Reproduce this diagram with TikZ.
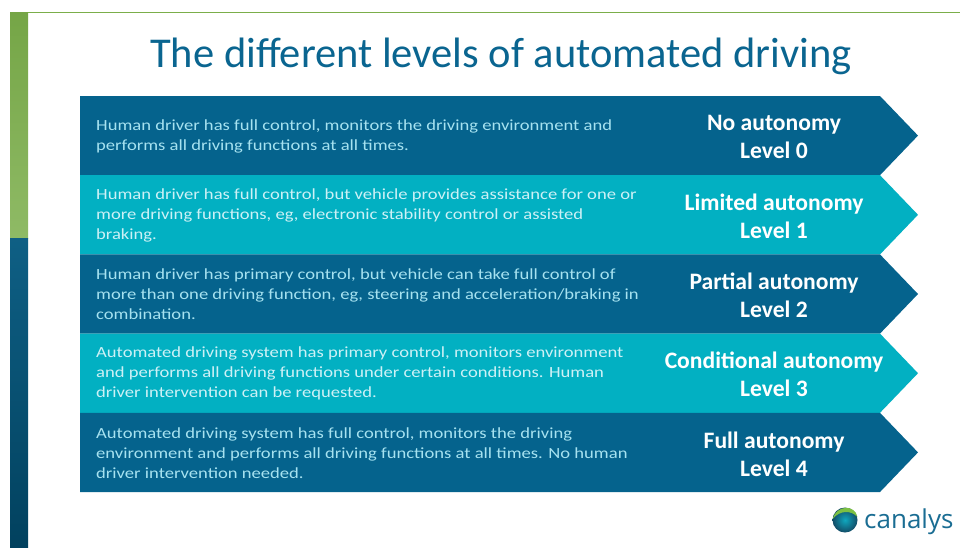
\documentclass[tikz,border=0pt]{standalone}
\usepackage{fontspec}
\setmainfont{Carlito}
\newfontfamily\descfont[FakeStretch=1.2]{Carlito}
\newfontfamily\logofont{Open Sans}
\usetikzlibrary{positioning}
\definecolor{bandDark}{HTML}{05638D}
\definecolor{bandLight}{HTML}{02B0C2}
\definecolor{txtDark}{HTML}{A6E2F0}
\definecolor{txtLight}{HTML}{CDF1F6}
\definecolor{titleBlue}{HTML}{0A6590}
\definecolor{barGreen}{HTML}{7BAE4A}
\definecolor{barBlue}{HTML}{02577E}
\definecolor{logoBlue}{HTML}{1A6D93}
\definecolor{logoGreen}{HTML}{7CC043}

\begin{document}
\begin{tikzpicture}[x=1pt,y=-1pt]
  \tikzstyle{desc}=[anchor=west,align=left,inner sep=0pt,
                    font=\descfont\fontsize{15.5}{20}\selectfont]
  \tikzstyle{level}=[align=center,inner sep=0pt,text=white,
                     font=\bfseries\fontsize{23.6}{28}\selectfont]

  \useasboundingbox (0,0) rectangle (960,547);
  \fill[white] (0,0) rectangle (960,547);

  % side bar and top rule
  \shade[top color=barGreen!95!black,bottom color=barGreen!85!white] (10,12) rectangle (28,238);
  \shade[top color=barBlue!95!white,bottom color=barBlue!75!black] (10,238) rectangle (28,547);
  \draw[barGreen,line width=1pt] (28,12) -- (960,12);

  \node[font=\fontsize{42.5}{48}\selectfont,text=titleBlue,anchor=base] (title) at (501,67.7)
       {The different levels of automated driving};

  % the five bands
  \fill[bandDark]  (80,96)    -- (880,96)    -- (918,135.6) -- (880,175.2) -- (80,175.2) -- cycle;
  \fill[bandLight] (80,175.2) -- (880,175.2) -- (918,214.8) -- (880,254.4) -- (80,254.4) -- cycle;
  \fill[bandDark]  (80,254.4) -- (880,254.4) -- (918,294)   -- (880,333.6) -- (80,333.6) -- cycle;
  \fill[bandLight] (80,333.6) -- (880,333.6) -- (918,373.2) -- (880,412.8) -- (80,412.8) -- cycle;
  \fill[bandDark]  (80,412.8) -- (880,412.8) -- (918,452.4) -- (880,492)   -- (80,492)   -- cycle;

  \node[desc,text=txtDark] (d0) at (96,136)
       {Human driver has full control, monitors the driving environment and\\
        performs all driving functions at all times.};
  \node[desc,text=txtLight] (d1) at (96,215.2)
       {Human driver has full control, but vehicle provides assistance for one or\\
        more driving functions, eg, electronic stability control or assisted\\
        braking.};
  \node[desc,text=txtDark] (d2) at (96,294.4)
       {Human driver has primary control, but vehicle can take full control of\\
        more than one driving function, eg, steering and acceleration/braking in\\
        combination.};
  \node[desc,text=txtLight] (d3) at (96,373.6)
       {Automated driving system has primary control, monitors environment\\
        and performs all driving functions under certain conditions. Human\\
        driver intervention can be requested.};
  \node[desc,text=txtDark] (d4) at (96,452.8)
       {Automated driving system has full control, monitors the driving\\
        environment and performs all driving functions at all times. No human\\
        driver intervention needed.};

  \node[level] (l0) at (774,137) {No autonomy\\Level 0};
  \node[level] (l1) at (774,216.2) {Limited autonomy\\Level 1};
  \node[level] (l2) at (774,295.4) {Partial autonomy\\Level 2};
  \node[level] (l3) at (774,374.6) {Conditional autonomy\\Level 3};
  \node[level] (l4) at (774,453.8) {Full autonomy\\Level 4};

  % logo
  \shade[inner color=logoBlue!60!cyan,outer color=logoBlue!70!black] (845,520) circle (12.5);
  \fill[logoGreen] (832.6,519) .. controls (836,505) and (855,504) .. (857.4,517)
       .. controls (851,510) and (840,510) .. (832.6,519) -- cycle;
  \node[font=\logofont\fontsize{26}{28}\selectfont,text=logoBlue,anchor=base west,inner sep=0pt]
       (logo) at (864,528) {canalys};
\end{tikzpicture}
\end{document}
